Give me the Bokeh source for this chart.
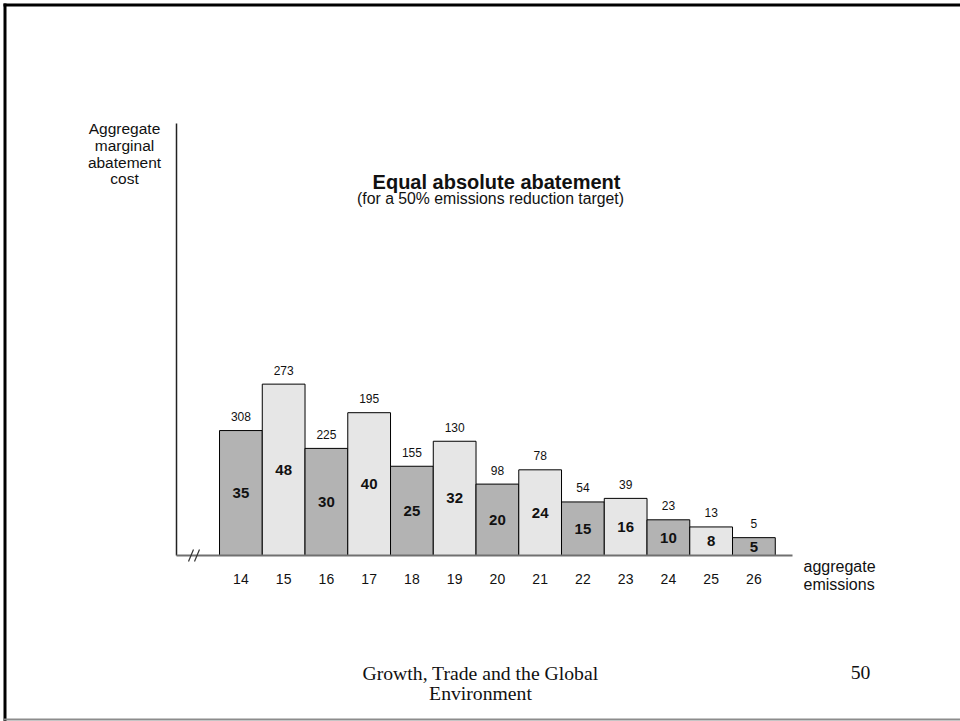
from bokeh.plotting import figure
from bokeh.models import Range1d
from bokeh.core.properties import value
from bokeh.embed import file_html
from bokeh.resources import INLINE

# ---- data ----
emissions = [14, 15, 16, 17, 18, 19, 20, 21, 22, 23, 24, 25, 26]
abatement = [35, 48, 30, 40, 25, 32, 20, 24, 15, 16, 10, 8, 5]
cost_labels = [308, 273, 225, 195, 155, 130, 98, 78, 54, 39, 23, 13, 5]
tick_labels = [str(e) for e in emissions]

W, H = 960, 721
PX_X = 42.75        # pixels per emission unit
PX_Y = 3.57         # pixels per abatement unit
X14 = 240.4         # figure px of x=14
BASE = 555          # figure px of y=0

xs = 14 - X14 / PX_X
ys_top = BASE / PX_Y
ys_bot = -(H - BASE) / PX_Y

def fx(px):
    return xs + px / PX_X

def fy(py):
    return ys_top - py / PX_Y

p = figure(width=W, height=H, output_backend="svg", toolbar_location=None,
           x_range=Range1d(xs, xs + W / PX_X), y_range=Range1d(ys_bot, ys_top),
           x_axis_location=None, y_axis_location=None, min_border=0)
p.outline_line_color = None
p.grid.visible = False
p.background_fill_color = "white"
p.border_fill_color = "white"

SANS = value("Liberation Sans")
SERIF = value("Liberation Serif")

# slide border
p.line([fx(3), fx(960)], [fy(4.5), fy(4.5)], line_color="black", line_width=3)
p.line([fx(4.5), fx(4.5)], [fy(3), fy(721)], line_color="black", line_width=3)
p.line([fx(3), fx(960)], [fy(719), fy(719)], line_color="#8c8c8c", line_width=2)

# bars
colors = ["#b3b3b3" if i % 2 == 0 else "#e6e6e6" for i in range(len(emissions))]
p.vbar(x=emissions, top=abatement, bottom=0, width=1.0, fill_color=colors,
       line_color="black", line_width=1)

# axes
p.line([fx(176), fx(176)], [fy(123), 0], line_color="#222222", line_width=1.5)
p.line([fx(176), fx(792)], [0, 0], line_color="#707070", line_width=2)
# axis break marks
p.segment(x0=[fx(188), fx(194)], y0=[fy(561), fy(561)],
          x1=[fx(193), fx(199)], y1=[fy(549), fy(549)],
          line_color="#333333", line_width=1.2)

# labels above bars
p.text(x=emissions, y=abatement, text=[str(c) for c in cost_labels],
       y_offset=-14, text_align="center", text_baseline="middle",
       text_font=SANS, text_font_size="12px", text_color="#111111")
# labels inside bars
p.text(x=emissions, y=[a / 2 for a in abatement], text=[str(a) for a in abatement],
       text_align="center", text_baseline="middle", text_font=SANS,
       text_font_size="15px", text_font_style="bold", text_color="#111111")
# tick labels
p.text(x=emissions, y=[fy(578)] * len(emissions), text=tick_labels,
       text_align="center", text_baseline="middle", text_font=SANS,
       text_font_size="14px", text_color="#111111")

# axis titles
ylab = ["Aggregate", "marginal", "abatement", "cost"]
p.text(x=[fx(124)] * 4, y=[fy(v) for v in (128, 145, 161.5, 178)], text=ylab,
       text_align="center", text_baseline="middle", text_font=SANS,
       text_font_size="15.5px", text_color="#111111")
p.text(x=[fx(803)] * 2, y=[fy(566), fy(584)], text=["aggregate", "emissions"],
       text_align="left", text_baseline="middle", text_font=SANS,
       text_font_size="16px", text_color="#111111")

# chart title
p.text(x=[fx(496)], y=[fy(181)], text=["Equal absolute abatement"],
       text_align="center", text_baseline="middle", text_font=SANS,
       text_font_size="20px", text_font_style="bold", text_color="#111111")
p.text(x=[fx(490)], y=[fy(198)], text=["(for a 50% emissions reduction target)"],
       text_align="center", text_baseline="middle", text_font=SANS,
       text_font_size="15.8px", text_color="#111111")

# footer
p.text(x=[fx(480)] * 2, y=[fy(672), fy(692)],
       text=["Growth, Trade and the Global", "Environment"],
       text_align="center", text_baseline="middle", text_font=SERIF,
       text_font_size="19.7px", text_color="#111111")
p.text(x=[fx(860)], y=[fy(672)], text=["50"], text_align="center",
       text_baseline="middle", text_font=SERIF, text_font_size="19.7px",
       text_color="#111111")

open("out.html", "w").write(file_html(p, INLINE))
